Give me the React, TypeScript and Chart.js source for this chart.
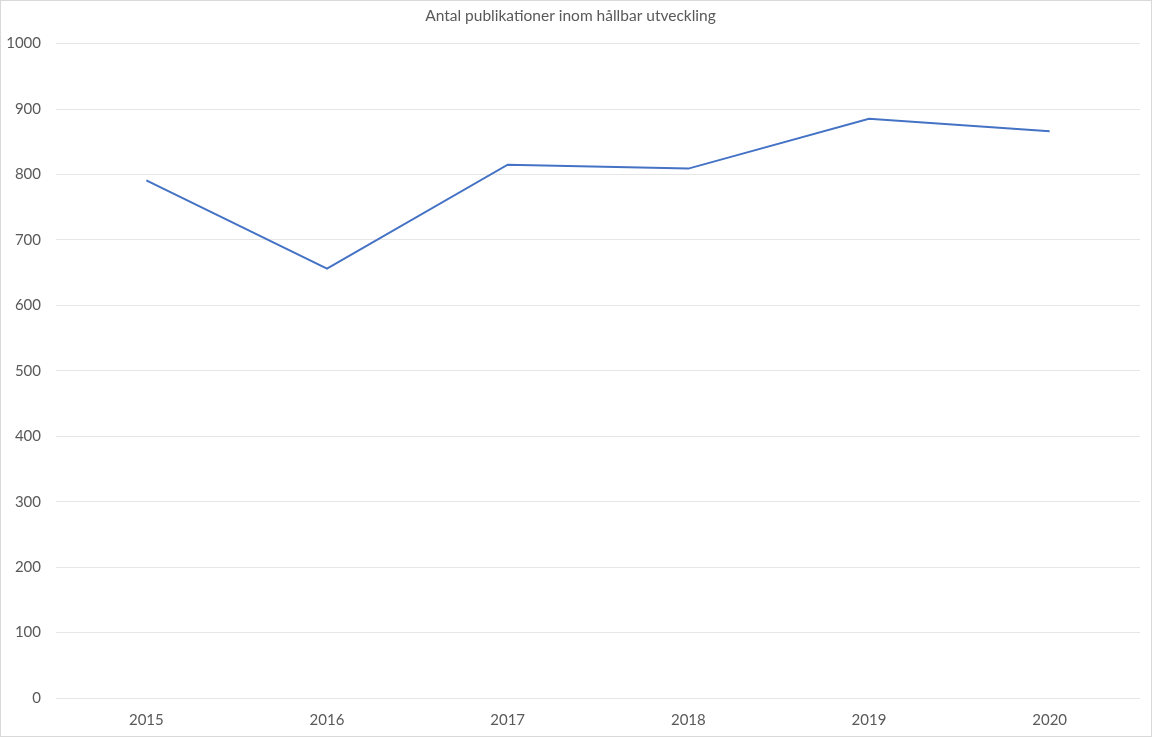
import React, { useEffect, useRef } from "react";
import { Chart, registerables } from "chart.js";

Chart.register(...registerables);

const chartTitle = "Antal publikationer inom hållbar utveckling";
const years = ["2015", "2016", "2017", "2018", "2019", "2020"];
const publications = [791, 656, 815, 809, 885, 866];
const yMin = 0;
const yMax = 1000;
const yStep = 100;

export default function App() {
  const ref = useRef<HTMLCanvasElement | null>(null);

  useEffect(() => {
    document.body.style.margin = "0";
    if (!ref.current) return;
    const font = { family: "Lato, 'Open Sans', sans-serif", size: 15 };
    const chart = new Chart(ref.current, {
      type: "line",
      data: {
        labels: years,
        datasets: [
          {
            label: "Publikationer",
            data: publications,
            borderColor: "#4472C4",
            backgroundColor: "#4472C4",
            borderWidth: 2,
            pointRadius: 0,
            tension: 0,
          },
        ],
      },
      options: {
        animation: false,
        responsive: false,
        maintainAspectRatio: false,
        layout: { padding: { left: 0, right: 11, top: 0, bottom: 0 } },
        plugins: {
          legend: { display: false },
          tooltip: { enabled: false },
          title: {
            display: true,
            text: chartTitle,
            color: "#595959",
            font: { ...font, size: 15.5, weight: "normal" },
            padding: { top: 6, bottom: 18 },
          },
        },
        scales: {
          x: {
            offset: true,
            grid: { display: false, drawTicks: false },
            border: { display: false },
            ticks: { color: "#595959", font, padding: 13, maxRotation: 0 },
            afterFit: (s: any) => {
              s.height = 38;
            },
          },
          y: {
            min: yMin,
            max: yMax,
            grid: { color: "#e6e6e6", lineWidth: 1, drawTicks: false },
            border: { display: false },
            ticks: {
              stepSize: yStep,
              color: "#595959",
              font,
              padding: 15,
              callback: (v: any) => String(v),
            },
            afterFit: (s: any) => {
              s.width = 55;
            },
          },
        },
      },
    });
    return () => chart.destroy();
  }, []);

  return (
    <div
      style={{
        position: "absolute",
        left: 0,
        top: 0,
        width: 1150,
        height: 735,
        border: "1px solid #d9d9d9",
        background: "#fff",
      }}
    >
      <canvas ref={ref} width={1150} height={735} style={{ display: "block" }} />
    </div>
  );
}
